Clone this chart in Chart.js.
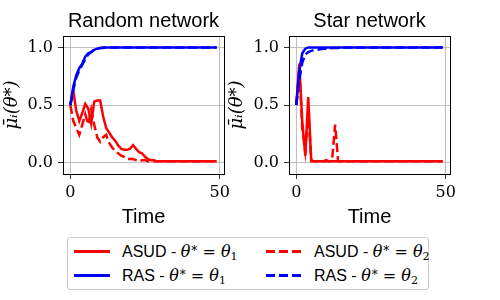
<!DOCTYPE html>
<html>
<head>
<meta charset="utf-8">
<script src="https://cdn.jsdelivr.net/npm/chart.js@4"></script>
<style>
  body { margin: 0; width: 500px; height: 300px; background: #fff; position: relative; overflow: hidden; }
  canvas { position: absolute; top: 0; }
  #cLeft { left: 0; }
  #cRight { left: 225px; }
  #legend { position: absolute; left: 67px; top: 237px; width: 362px; height: 53px; box-sizing: border-box;
            border: 1px solid #cccccc; border-radius: 3px; font: 16px "Liberation Sans", Arial, sans-serif; color: #000; }
  .item { position: absolute; height: 20px; line-height: 20px; white-space: nowrap; }
  .swatch { position: absolute; top: 9px; width: 36px; height: 2.5px; }
  .lbl { position: absolute; top: 0; }
  .m { font-family: "DejaVu Serif", serif; font-size: 16px; }
  .m i { font-style: italic; }
  .m sup { font-size: 12px; vertical-align: 2px; margin-left: 1px; }
  .m sub { font-size: 11px; vertical-align: -3px; }
</style>
</head>
<body>
<canvas id="cLeft" width="240" height="230"></canvas>
<canvas id="cRight" width="275" height="230"></canvas>
<div id="legend"></div>
<script>
// time steps 0..49
const time = Array.from({ length: 50 }, (_, i) => i);
const xTicks = [0, 50];
const yTicks = [0, 0.5, 1.0];

// random network
const asudRand1 = [
  0.50, 0.62, 0.45, 0.36, 0.43, 0.51, 0.47, 0.34, 0.53, 0.54,
  0.54, 0.40, 0.30, 0.26, 0.22, 0.19, 0.15, 0.12, 0.11, 0.11,
  0.12, 0.15, 0.12, 0.09, 0.08, 0.05, 0.03, 0.02, 0.02, 0.01,
  0.01, 0.01, 0.01, 0.01, 0.01, 0.01, 0.01, 0.01, 0.01, 0.01,
  0.01, 0.01, 0.01, 0.01, 0.01, 0.01, 0.01, 0.01, 0.01, 0.01
];
const asudRand2 = [
  0.50, 0.36, 0.30, 0.24, 0.33, 0.42, 0.33, 0.46, 0.33, 0.22,
  0.18, 0.22, 0.24, 0.17, 0.13, 0.10, 0.08, 0.06, 0.05, 0.03,
  0.03, 0.03, 0.02, 0.01, 0.02, 0.02, 0.01, 0.01, 0.01, 0.01,
  0.01, 0.01, 0.01, 0.01, 0.01, 0.01, 0.01, 0.01, 0.01, 0.01,
  0.01, 0.01, 0.01, 0.01, 0.01, 0.01, 0.01, 0.01, 0.01, 0.01
];
const rasRand1 = [
  0.50, 0.66, 0.76, 0.82, 0.86, 0.92, 0.95, 0.96, 0.98, 0.99,
  0.995, 1.0, 1.0, 1.0, 1.0, 1.0, 1.0, 1.0, 1.0, 1.0,
  1.0, 1.0, 1.0, 1.0, 1.0, 1.0, 1.0, 1.0, 1.0, 1.0,
  1.0, 1.0, 1.0, 1.0, 1.0, 1.0, 1.0, 1.0, 1.0, 1.0,
  1.0, 1.0, 1.0, 1.0, 1.0, 1.0, 1.0, 1.0, 1.0, 1.0
];
const rasRand2 = [
  0.50, 0.63, 0.74, 0.80, 0.85, 0.90, 0.94, 0.96, 0.98, 0.99,
  0.995, 0.995, 1.0, 1.0, 1.0, 1.0, 1.0, 1.0, 1.0, 1.0,
  1.0, 1.0, 1.0, 1.0, 1.0, 1.0, 1.0, 1.0, 1.0, 1.0,
  1.0, 1.0, 1.0, 1.0, 1.0, 1.0, 1.0, 1.0, 1.0, 1.0,
  1.0, 1.0, 1.0, 1.0, 1.0, 1.0, 1.0, 1.0, 1.0, 1.0
];

// star network
const asudStar1 = [
  0.50, 0.86, 0.35, 0.06, 0.57, 0.01, 0.01, 0.01, 0.01, 0.01,
  0.01, 0.01, 0.01, 0.01, 0.01, 0.01, 0.01, 0.01, 0.01, 0.01,
  0.01, 0.01, 0.01, 0.01, 0.01, 0.01, 0.01, 0.01, 0.01, 0.01,
  0.01, 0.01, 0.01, 0.01, 0.01, 0.01, 0.01, 0.01, 0.01, 0.01,
  0.01, 0.01, 0.01, 0.01, 0.01, 0.01, 0.01, 0.01, 0.01, 0.01
];
const asudStar2 = [
  0.50, 0.82, 0.30, 0.10, 0.45, 0.02, 0.01, 0.01, 0.02, 0.01,
  0.02, 0.01, 0.03, 0.33, 0.01, 0.01, 0.01, 0.01, 0.01, 0.01,
  0.01, 0.01, 0.01, 0.01, 0.01, 0.01, 0.01, 0.01, 0.01, 0.01,
  0.01, 0.01, 0.01, 0.01, 0.01, 0.01, 0.01, 0.01, 0.01, 0.01,
  0.01, 0.01, 0.01, 0.01, 0.01, 0.01, 0.01, 0.01, 0.01, 0.01
];
const rasStar1 = [
  0.50, 0.80, 0.95, 0.99, 1.0, 1.0, 1.0, 1.0, 1.0, 1.0,
  1.0, 1.0, 1.0, 1.0, 1.0, 1.0, 1.0, 1.0, 1.0, 1.0,
  1.0, 1.0, 1.0, 1.0, 1.0, 1.0, 1.0, 1.0, 1.0, 1.0,
  1.0, 1.0, 1.0, 1.0, 1.0, 1.0, 1.0, 1.0, 1.0, 1.0,
  1.0, 1.0, 1.0, 1.0, 1.0, 1.0, 1.0, 1.0, 1.0, 1.0
];
const rasStar2 = [
  0.50, 0.72, 0.87, 0.94, 0.96, 0.97, 0.98, 0.98, 0.985, 0.99,
  0.99, 0.99, 0.995, 0.995, 0.995, 1.0, 1.0, 1.0, 1.0, 1.0,
  1.0, 1.0, 1.0, 1.0, 1.0, 1.0, 1.0, 1.0, 1.0, 1.0,
  1.0, 1.0, 1.0, 1.0, 1.0, 1.0, 1.0, 1.0, 1.0, 1.0,
  1.0, 1.0, 1.0, 1.0, 1.0, 1.0, 1.0, 1.0, 1.0, 1.0
];

const RED = "#ff0000";
const BLUE = "#0000ff";
const DASH = [9, 4];

// legend entries: name, theta index, colour, dashed
const legendItems = [
  { name: "ASUD", idx: 1, color: RED, dashed: false },
  { name: "ASUD", idx: 2, color: RED, dashed: true },
  { name: "RAS", idx: 1, color: BLUE, dashed: false },
  { name: "RAS", idx: 2, color: BLUE, dashed: true }
];

// draws the matplotlib style box round the plot area
const framePlugin = {
  id: "frame",
  afterDatasetsDraw(chart) {
    const { ctx, chartArea: a } = chart;
    ctx.save();
    ctx.strokeStyle = "#000";
    ctx.lineWidth = 1;
    ctx.strokeRect(Math.round(a.left) + 0.5, Math.round(a.top) + 0.5,
      Math.round(a.right - a.left), Math.round(a.bottom - a.top));
    ctx.restore();
  }
};

function series(values, color, dashed) {
  return {
    data: values.map((v, i) => ({ x: time[i], y: v })),
    borderColor: color,
    borderWidth: 2.5,
    borderDash: dashed ? DASH : [],
    pointRadius: 0,
    tension: 0,
    fill: false
  };
}

function buildConfig(title, red1, red2, blue1, blue2, yWidth, padRight) {
  return {
    type: "line",
    data: {
      datasets: [
        series(blue1, BLUE, false),
        series(blue2, BLUE, true),
        series(red1, RED, false),
        series(red2, RED, true)
      ]
    },
    options: {
      responsive: false,
      animation: false,
      devicePixelRatio: 1,
      layout: { padding: { left: 0, right: padRight, top: 0, bottom: 0 } },
      plugins: {
        legend: { display: false },
        tooltip: { enabled: false },
        title: {
          display: true, text: title, fullSize: false, color: "#000",
          font: { family: "Liberation Sans", size: 20, weight: "normal" },
          padding: { top: 9, bottom: 3 }
        }
      },
      scales: {
        x: {
          type: "linear", min: -2.45, max: 51.45,
          afterBuildTicks: s => { s.ticks = xTicks.map(v => ({ value: v })); },
          afterFit: s => { s.height = 56; },
          ticks: { font: { family: "DejaVu Serif", size: 16 }, color: "#000", padding: 4, maxRotation: 0, autoSkip: false },
          grid: { color: "#b0b0b0", lineWidth: 0.8, tickColor: "#000", tickLength: 5 },
          border: { display: false },
          title: { display: true, text: "Time", color: "#000",
                   font: { family: "Liberation Sans", size: 20 }, padding: { top: 0, bottom: 1 } }
        },
        y: {
          type: "linear", min: -0.1, max: 1.1,
          afterBuildTicks: s => { s.ticks = yTicks.map(v => ({ value: v })); },
          afterFit: s => { s.width = yWidth; },
          ticks: { font: { family: "DejaVu Serif", size: 16 }, color: "#000", padding: 5,
                   callback: v => v.toFixed(1) },
          grid: { color: "#b0b0b0", lineWidth: 0.8, tickColor: "#000", tickLength: 5 },
          border: { display: false },
          title: { display: true, text: "μ̄ᵢ(θ*)", color: "#000",
                   font: { family: "DejaVu Serif", size: 18, style: "italic" }, padding: { top: 2, bottom: 0 } }
        }
      }
    },
    plugins: [framePlugin]
  };
}

new Chart(document.getElementById("cLeft"),
  buildConfig("Random network", asudRand1, asudRand2, rasRand1, rasRand2, 63, 16));
new Chart(document.getElementById("cRight"),
  buildConfig("Star network", asudStar1, asudStar2, rasStar1, rasStar2, 64, 50));

// --- legend below both panels ---
const legend = document.getElementById("legend");
const slots = [[6, 13], [198, 13], [6, 37], [198, 37]]; // column x, row centre y
legendItems.forEach((it, k) => {
  const [x, y] = slots[k];
  const el = document.createElement("div");
  el.className = "item";
  el.style.left = x + "px";
  el.style.top = (y - 10) + "px";
  const sw = document.createElement("div");
  sw.className = "swatch";
  sw.style.left = "0px";
  sw.style.background = it.dashed
    ? `repeating-linear-gradient(90deg, ${it.color} 0 9px, transparent 9px 13px)`
    : it.color;
  const lbl = document.createElement("div");
  lbl.className = "lbl";
  lbl.style.left = "48px";
  lbl.innerHTML = `${it.name} - <span class="m"><i>θ</i><sup>*</sup> = <i>θ</i><sub>${it.idx}</sub></span>`;
  el.appendChild(sw);
  el.appendChild(lbl);
  legend.appendChild(el);
});
</script>
</body>
</html>
